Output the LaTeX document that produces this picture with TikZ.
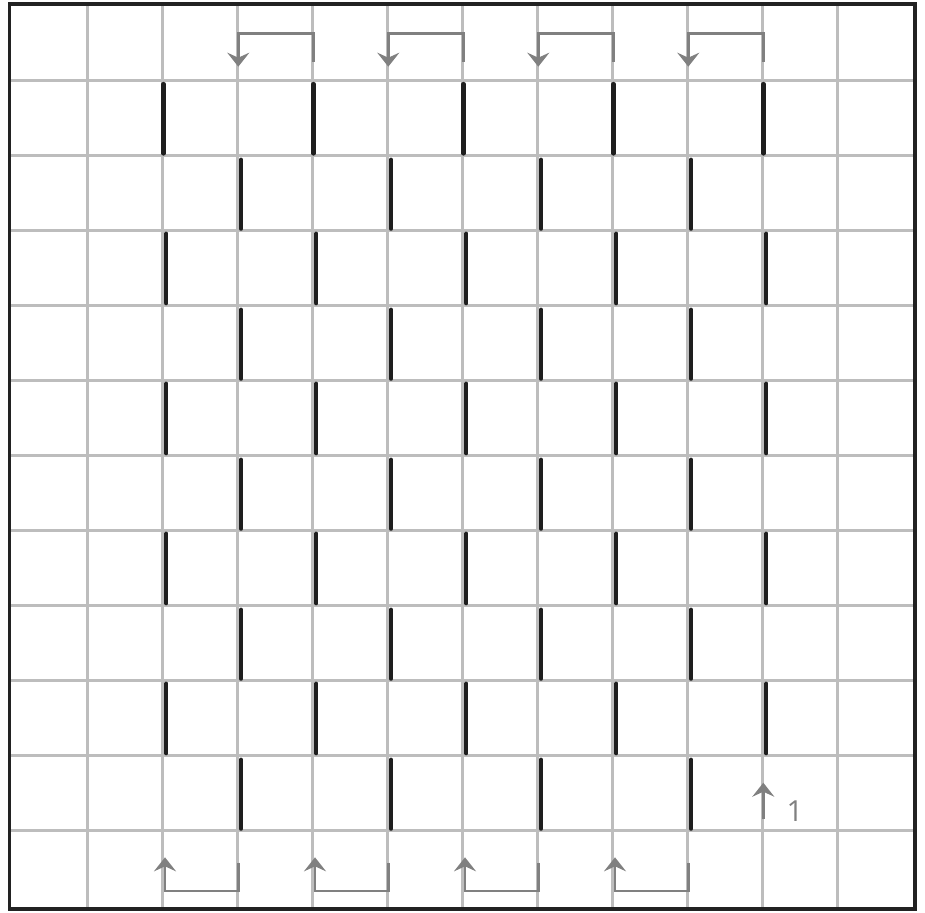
\documentclass[tikz,border=0pt]{standalone}
\usepackage{fontspec}
\setmainfont{Open Sans}
\usetikzlibrary{arrows.meta}
\definecolor{gridgray}{HTML}{BDBDBD}
\definecolor{bargray}{HTML}{1E1E1E}
\definecolor{arrowgray}{HTML}{808080}
\definecolor{framegray}{HTML}{222222}
\begin{document}
\begin{tikzpicture}[x=1pt,y=-1pt,
  gridline/.style={draw=gridgray,line width=2.5pt},
  frameline/.style={draw=framegray,line width=3.2pt},
  barline/.style={draw=bargray,line width=4.2pt,line cap=round},
  arrowline/.style={draw=arrowgray,line width=2.6pt,-{Stealth[length=14pt,width=22pt,inset=5pt]}},
  bracketline/.style={draw=arrowgray,line width=2.6pt},
  numlabel/.style={text=arrowgray,font=\fontsize{29}{29}\selectfont,inner sep=0pt}]
\useasboundingbox (0,0) rectangle (925,912);
% grid
\foreach \i in {0,...,10} {
  \draw[gridline] ({87.3+75*\i},4) -- ({87.3+75*\i},909);
  \draw[gridline] (9.5,{80.7+75*\i}) -- (915,{80.7+75*\i});
}
\draw[frameline] (9.5,4) rectangle (915,909);
% bars row 1
\foreach \i in {0,...,4}
  \draw[barline] ({163.5+150*\i},84) -- ({163.5+150*\i},153.5);
% odd rows 3,5,7,9
\foreach \r in {3,5,7,9}
  \foreach \i in {0,...,4}
    \draw[barline] ({166.3+150*\i},{80.7+75*(\r-1)+3}) -- ({166.3+150*\i},{80.7+75*\r-2.5});
% even rows 2..10
\foreach \r in {2,4,6,8,10}
  \foreach \i in {0,...,3}
    \draw[barline] ({241+150*\i},{80.7+75*(\r-1)+4}) -- ({241+150*\i},{80.7+75*\r-2});
% top brackets
\foreach \i in {0,...,3} {
  \coordinate (tr\i) at ({313.3+150*\i},61.7);
  \coordinate (tl\i) at ({238.3+150*\i},66.7);
  \draw[bracketline] (tr\i) -- ({313.3+150*\i},33.3) -- ({238.3+150*\i},33.3) -- ({238.3+150*\i},50);
  \draw[arrowline] ({238.3+150*\i},45) -- (tl\i);
}
% bottom brackets
\foreach \i in {0,...,3} {
  \coordinate (br\i) at ({238.3+150*\i},862.7);
  \coordinate (bl\i) at ({165+150*\i},857.3);
  \draw[bracketline] (br\i) -- ({238.3+150*\i},891) -- ({165+150*\i},891) -- ({165+150*\i},875);
  \draw[arrowline] ({165+150*\i},880) -- (bl\i);
}
% small arrow with label
\coordinate (sa) at (763.3,819.3);
\coordinate (sb) at (763.3,782.7);
\draw[arrowline] (sa) -- (sb);
\node[numlabel] (one) at (795,810.7) {1};
\end{tikzpicture}
\end{document}
